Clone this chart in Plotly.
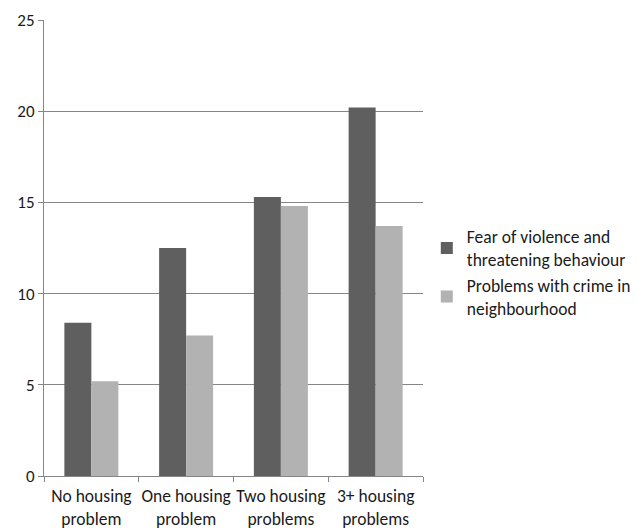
import plotly.graph_objects as go

categories = ["No housing<br>problem", "One housing<br>problem", "Two housing<br>problems", "3+ housing<br>problems"]
fear_values = [8.4, 12.5, 15.3, 20.2]
crime_values = [5.2, 7.7, 14.8, 13.7]
series_names = ["Fear of violence and<br>threatening behaviour", "Problems with crime in<br>neighbourhood"]
y_ticks = [0, 5, 10, 15, 20, 25]

fig = go.Figure()
fig.add_trace(go.Bar(x=categories, y=fear_values, name=series_names[0], marker=dict(color="#5f5f5f", line=dict(width=0))))
fig.add_trace(go.Bar(x=categories, y=crime_values, name=series_names[1], marker=dict(color="#b2b2b2", line=dict(width=0))))

font_family = "Carlito, Lato, 'Open Sans', sans-serif"
fig.update_layout(
    width=639, height=529,
    margin=dict(l=44, r=216, t=20, b=53, autoexpand=False),
    paper_bgcolor="white", plot_bgcolor="white",
    barmode="group", bargap=0.43, bargroupgap=0,
    font=dict(family=font_family, size=17, color="#1a1a1a"),
    legend=dict(x=1.01, y=0.447, xanchor="left", yanchor="middle", font=dict(size=17.5),
                tracegroupgap=12, itemsizing="constant", itemwidth=30),
    showlegend=True,
)
fig.update_xaxes(showline=True, linecolor="#868686", linewidth=1, ticks="outside", tickson="boundaries",
                 ticklen=5, tickcolor="#868686", showgrid=False, tickfont=dict(size=17.5),
                 tickangle=0, automargin=False, ticklabelstandoff=4)
fig.update_yaxes(range=[0, 25], tickvals=y_ticks, showline=True, linecolor="#868686", linewidth=1,
                 ticks="outside", ticklen=5, tickcolor="#868686", showgrid=True, gridcolor="#868686",
                 gridwidth=1, zeroline=False, tickfont=dict(size=17), automargin=False)

fig.write_html("out.html")
